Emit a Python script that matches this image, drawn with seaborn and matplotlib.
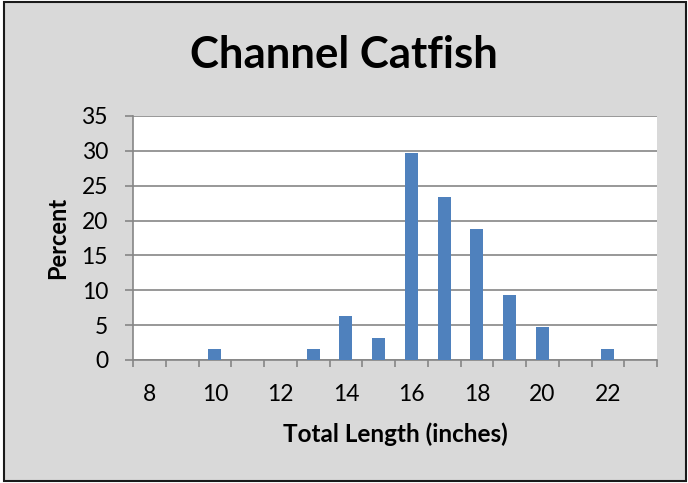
import matplotlib
matplotlib.use("Agg")
import matplotlib.pyplot as plt
from matplotlib.patches import Rectangle
import seaborn as sns
import pandas as pd
import numpy as np

# length classes (inches) and percent of fish in each class
lengths = [8, 9, 10, 11, 12, 13, 14, 15, 16, 17, 18, 19, 20, 21, 22, 23]
percent = [0, 0, 1.5625, 0, 0, 1.5625, 6.25, 3.125, 29.6875, 23.4375,
           18.75, 9.375, 4.6875, 0, 1.5625, 0]
tick_labels = [str(v) if v % 2 == 0 else "" for v in lengths]

df = pd.DataFrame({"length": [str(v) for v in lengths], "percent": percent})

sns.set_style("white")
plt.rcParams["font.family"] = ["Lato", "DejaVu Sans"]
plt.rcParams["text.color"] = "black"
plt.rcParams["axes.labelcolor"] = "black"
plt.rcParams["xtick.labelcolor"] = "black"
plt.rcParams["ytick.labelcolor"] = "black"

fig = plt.figure(figsize=(6.88, 4.83), dpi=100, facecolor="white")
# grey chart area with dark frame
fig.patches.append(Rectangle((4 / 688, 2 / 483), 682 / 688, 479 / 483,
                             transform=fig.transFigure, facecolor="#d9d9d9",
                             edgecolor="#1a1a1a", linewidth=1.5, zorder=-1))

ax = fig.add_axes([133 / 688, 1 - 360 / 483, 524 / 688, 244 / 483])
ax.set_facecolor("white")

sns.barplot(data=df, x="length", y="percent", color="#4f81bd", width=0.4,
            saturation=1, linewidth=0, ax=ax, zorder=3)

ax.set_xlim(-0.5, len(lengths) - 0.5)
ax.set_ylim(0, 35)
ax.set_yticks(np.arange(0, 36, 5))
ax.yaxis.grid(True, color="#868686", linewidth=1.2, zorder=0)
ax.set_axisbelow(True)

# tick marks at category boundaries, labels at category centres
ax.set_xticks(np.arange(len(lengths)))
ax.set_xticklabels(tick_labels)
ax.set_xticks(np.arange(-0.5, len(lengths)), minor=True)
ax.tick_params(axis="x", which="major", bottom=True, length=0, pad=17,
               labelsize=16.5)
ax.tick_params(axis="x", which="minor", bottom=True, length=5, width=1.2,
               color="#868686", direction="out")
ax.tick_params(axis="y", left=True, length=6, width=1.2, color="#868686",
               direction="out", pad=12, labelsize=16.5)

for side in ["top", "right"]:
    ax.spines[side].set_visible(False)
for side in ["left", "bottom"]:
    ax.spines[side].set_color("#868686")
    ax.spines[side].set_linewidth(1.2)

ax.set_xlabel("Total Length (inches)", fontsize=17.5, fontweight="bold", labelpad=13)
ax.set_ylabel("Percent", fontsize=17, fontweight="bold", labelpad=9)

fig.text(0.5, 1 - 55 / 483, "Channel Catfish", ha="center", va="center",
         fontsize=31.5, fontweight="bold")

fig.savefig("out.png", dpi=100, facecolor="white")
